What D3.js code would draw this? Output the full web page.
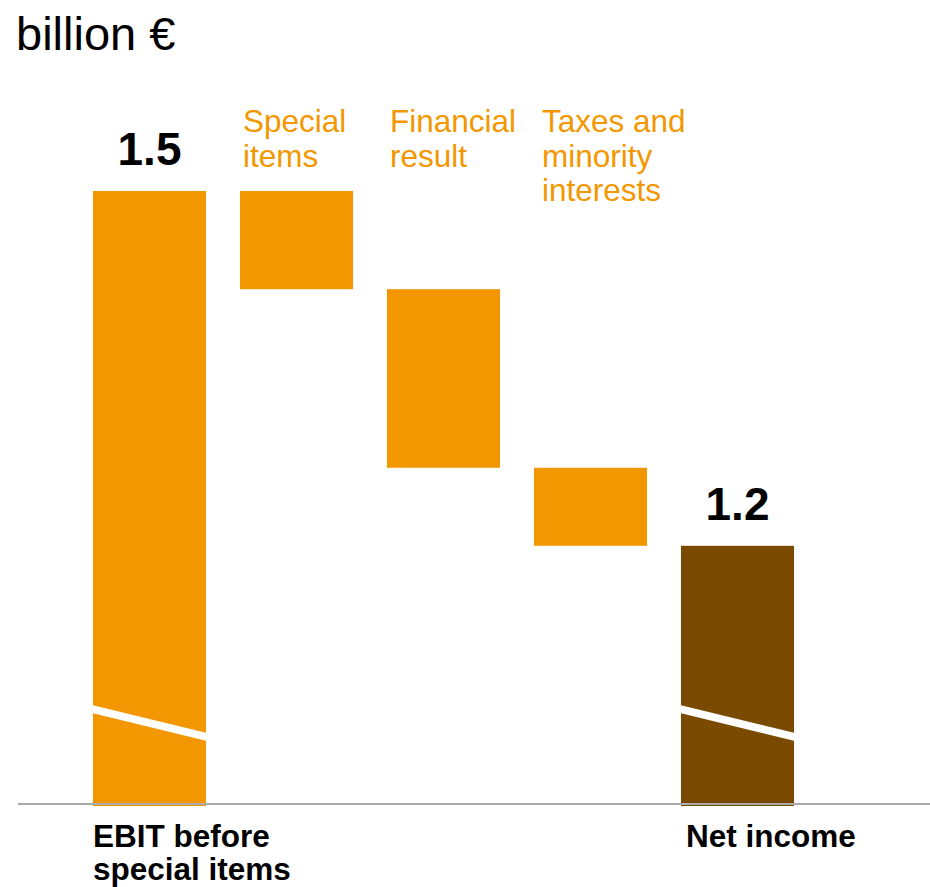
<!DOCTYPE html>
<html><head><meta charset="utf-8">
<script src="https://cdn.jsdelivr.net/npm/d3@7"></script>
<style>body{margin:0;background:#fff}svg{display:block}text{font-family:"Liberation Sans",Arial,sans-serif}</style>
</head><body><svg id="c" width="930" height="887"></svg>
<script>
const categories = ["EBIT before special items","Special items","Financial result","Taxes and minority interests","Net income"];
const kinds = ["total","delta","delta","delta","total"];
const values = [1.5, -0.083, -0.151, -0.066, 1.2];
const valueLabels = ["1.5","","","","1.2"];
const topLabels = [[],["Special","items"],["Financial","result"],["Taxes and","minority","interests"],[]];
const bottomLabels = [["EBIT before","special items"],[],[],[],["Net income"]];
const unitLabel = "billion €";

const svg = d3.select("#c");
const x = d3.scaleBand().domain(categories).range([76, 811]).paddingInner(0.231).paddingOuter(0.1155);
const y = d3.scaleLinear().domain([0.98, 1.5]).range([806, 191]).clamp(true);

let run = 0;
const bars = categories.map((c,i)=>{
  let y0,y1;
  if(kinds[i]==="total"){ y0=0; y1=values[i]; run=values[i]; }
  else { y0=run+values[i]; y1=run; run=run+values[i]; }
  return {c,i,y0,y1,kind:kinds[i]};
});

const orange="#f39700", brown="#7a4a00";
svg.append("text").attr("x",16).attr("y",50).attr("font-size",47).attr("fill","#000").text(unitLabel);

svg.selectAll("rect.bar").data(bars).join("rect").attr("class","bar")
  .attr("x",d=>x(d.c)).attr("width",x.bandwidth())
  .attr("y",d=>y(d.y1)).attr("height",d=>y(d.y0)-y(d.y1))
  .attr("fill",d=>d.i===categories.length-1?brown:orange);

bars.filter(d=>d.kind==="total").forEach(d=>{
  const x0=x(d.c)-1, x1=x(d.c)+x.bandwidth()+1;
  svg.append("path").attr("fill","#fff")
    .attr("d",`M${x0},705L${x1},733L${x1},741L${x0},713Z`);
});

svg.append("line").attr("x1",18).attr("x2",930).attr("y1",804).attr("y2",804)
  .attr("stroke","#aaaaaa").attr("stroke-width",2);

bars.forEach(d=>{
  if(valueLabels[d.i]) svg.append("text").attr("x",x(d.c)+x.bandwidth()/2).attr("y",y(d.y1)-26)
    .attr("text-anchor","middle").attr("font-size",46).attr("font-weight","bold").attr("fill","#000").text(valueLabels[d.i]);
});
topLabels.forEach((lines,i)=>{
  lines.forEach((t,j)=>svg.append("text").attr("x",x(categories[i])+(i===3?8:3)).attr("y",132+j*34.5)
    .attr("font-size",31.5).attr("fill",orange).text(t));
});
bottomLabels.forEach((lines,i)=>{
  lines.forEach((t,j)=>svg.append("text").attr("x",x(categories[i])+(i===4?5:0)).attr("y",847+j*33)
    .attr("font-size",31.5).attr("font-weight","bold").attr("fill","#000").text(t));
});
</script></body></html>
